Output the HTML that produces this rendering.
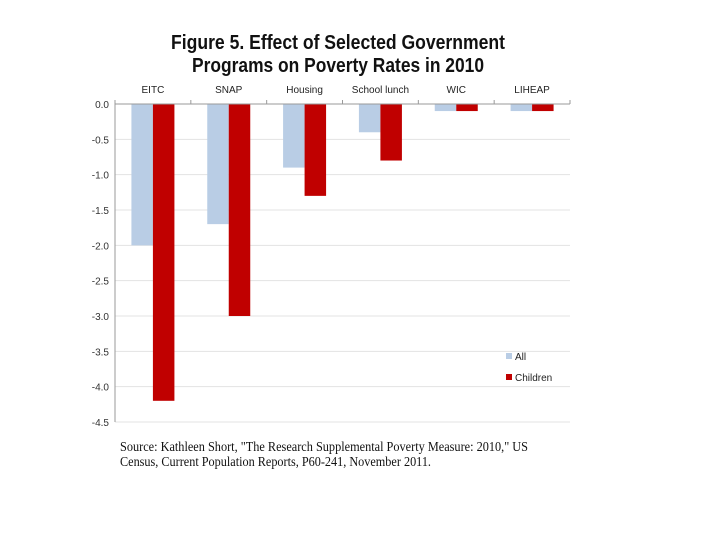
<!DOCTYPE html>
<html><head><meta charset="utf-8"><style>
body{margin:0;background:#fff;width:720px;height:540px;overflow:hidden}
</style></head><body>
<svg width="720" height="540" style="font-family:'Liberation Sans',sans-serif">
<text x="338" y="49" text-anchor="middle" font-size="20" font-weight="bold" fill="#111" textLength="334" lengthAdjust="spacingAndGlyphs">Figure 5.  Effect of Selected Government</text>
<text x="338" y="72" text-anchor="middle" font-size="20" font-weight="bold" fill="#111" textLength="292" lengthAdjust="spacingAndGlyphs">Programs on Poverty Rates in 2010</text>
<g id="grid"></g><g id="bars"></g><g id="axes"></g>
<rect x="506" y="353" width="6" height="6" fill="#b9cde5"/>
<text x="515" y="360" font-size="10" fill="#222">All</text>
<rect x="506" y="374" width="6" height="6" fill="#c00000"/>
<text x="515" y="381" font-size="10" fill="#222">Children</text>
<text x="120" y="451" font-family="'Liberation Serif',serif" font-size="13.5" fill="#111" textLength="408" lengthAdjust="spacingAndGlyphs">Source:  Kathleen Short, "The Research Supplemental Poverty Measure: 2010,"  US</text>
<text x="120" y="466" font-family="'Liberation Serif',serif" font-size="13.5" fill="#111" textLength="311" lengthAdjust="spacingAndGlyphs">Census, Current Population Reports, P60-241, November 2011.</text>
</svg>
<script>
const categories=["EITC","SNAP","Housing","School lunch","WIC","LIHEAP"];
const allValues=[-2.0,-1.7,-0.9,-0.4,-0.1,-0.1];
const childrenValues=[-4.2,-3.0,-1.3,-0.8,-0.1,-0.1];
const yTicks=[0,-0.5,-1,-1.5,-2,-2.5,-3,-3.5,-4,-4.5];
const NS="http://www.w3.org/2000/svg";
const x0=115,x1=570,yTop=104,yBot=422,vMin=-4.5;
const y=v=>yTop+(v/vMin)*(yBot-yTop);
const cw=(x1-x0)/categories.length;
function mk(t,a,p){const e=document.createElementNS(NS,t);for(const k in a)e.setAttribute(k,a[k]);p.appendChild(e);return e;}
const grid=document.getElementById('grid'),bars=document.getElementById('bars'),axes=document.getElementById('axes');
yTicks.forEach(v=>{
  if(v!==0){const l=mk('line',{x1:x0,x2:x1,y1:y(v),y2:y(v),stroke:'#e3e3e3','stroke-width':1},grid);
  
  }
  const t=mk('text',{x:x0-6,y:y(v)+4,'text-anchor':'end','font-size':10,fill:'#333'},axes);
  t.textContent=v.toFixed(1);
  
  
});
categories.forEach((c,i)=>{
  const cx=x0+cw*(i+0.5),bw=21.5;
  const a=mk('rect',{x:cx-bw,y:y(0),width:bw,height:y(allValues[i])-y(0),fill:'#b9cde5'},bars);
  
  
  const b=mk('rect',{x:cx,y:y(0),width:bw,height:y(childrenValues[i])-y(0),fill:'#c00000'},bars);
  
  
  const t=mk('text',{x:cx,y:93,'text-anchor':'middle','font-size':10,fill:'#222'},axes);
  t.textContent=c;
  
  
});
for(let i=0;i<=categories.length;i++){
  const tx=x0+cw*i;
  const tk=mk('line',{x1:tx,x2:tx,y1:y(0),y2:y(0)-4,stroke:'#999'},axes);
  
  
}
const xa=mk('line',{x1:x0,x2:x1,y1:y(0),y2:y(0),stroke:'#999'},axes);


const ya=mk('line',{x1:x0,x2:x0,y1:y(0),y2:yBot,stroke:'#999'},axes);


</script>
</body></html>
